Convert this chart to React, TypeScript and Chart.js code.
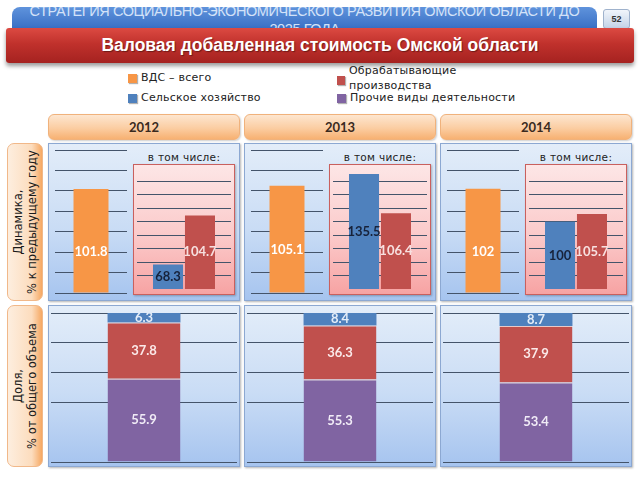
import React, { useEffect, useRef } from "react";
import { Chart, registerables } from "chart.js";

Chart.register(...registerables);

// ---------- data ----------
const years = ["2012", "2013", "2014"];
const vdsTotal = [101.8, 105.1, 102];
const agriDynamics = [68.3, 135.5, 100];
const manufDynamics = [104.7, 106.4, 105.7];
const agriShare = [6.3, 8.4, 8.7];
const manufShare = [37.8, 36.3, 37.9];
const otherShare = [55.9, 55.3, 53.4];

const legendLabels = ["ВДС – всего", "Сельское хозяйство", "Обрабатывающие производства", "Прочие виды деятельности"];
const COLORS = { vds: "#f79646", agri: "#4f81bd", manuf: "#c0504d", other: "#8064a2" };
const GRID = "#44546a";

const valueLabels = {
  id: "valueLabels",
  afterDatasetsDraw(chart: any, _args: any, opts: any) {
    const ctx = chart.ctx;
    const area = chart.chartArea;
    chart.data.datasets.forEach((ds: any, i: number) => {
      const meta = chart.getDatasetMeta(i);
      meta.data.forEach((el: any, j: number) => {
        const v = ds.data[j];
        const p = el.getProps(["x", "y", "base"], true);
        const base = Math.min(p.base, area.bottom);
        const top = Math.max(p.y, area.top);
        ctx.save();
        ctx.font = opts.font || "bold 13px Lato";
        ctx.fillStyle = ds.labelColor || "#fff";
        ctx.textAlign = "center";
        ctx.textBaseline = "middle";
        ctx.fillText(String(v), p.x, (top + base) / 2 + (opts.offset || 0));
        ctx.restore();
      });
    });
  },
};

function makeConfig(datasets: any[], min: number, max: number, step: number, bp: number, cp: number, hidden: number[], stacked: boolean, offset: number) {
  return {
    type: "bar",
    data: { labels: ["x"], datasets },
    options: {
      animation: false,
      responsive: false,
      events: [],
      layout: { padding: { top: 2, bottom: 2, left: 0, right: 0 } },
      plugins: { legend: { display: false }, tooltip: { enabled: false }, valueLabels: { offset, font: "bold 13px Lato" } },
      datasets: { bar: { barPercentage: bp, categoryPercentage: cp } },
      scales: {
        x: { display: false, stacked },
        y: {
          display: true,
          stacked,
          min,
          max,
          ticks: { display: false, stepSize: step },
          border: { display: false },
          grid: {
            drawTicks: false,
            lineWidth: 1,
            color: (c: any) => (hidden.includes(c.tick && c.tick.value) ? "rgba(0,0,0,0)" : GRID),
          },
        },
      },
    },
    plugins: [valueLabels],
  };
}

function ChartCanvas({ left, top, width, height, config }: any) {
  const ref = useRef<HTMLCanvasElement>(null);
  useEffect(() => {
    const c = new Chart(ref.current as HTMLCanvasElement, config as any);
    return () => c.destroy();
  }, []);
  return <canvas ref={ref} width={width} height={height} style={{ position: "absolute", left, top, width, height }} />;
}

const panelX = [48, 244, 440];

const abs = (l: number, t: number, w: number, h: number, extra: any = {}) => ({ position: "absolute" as const, left: l, top: t, width: w, height: h, ...extra });

const bluePanel = {
  background: "linear-gradient(to bottom, #e3edf9 0%, #c9dcf5 55%, #a6c4ef 100%)",
  border: "1px solid #8ca8d2",
  boxShadow: "1px 1px 2px rgba(0,0,0,0.3)",
  boxSizing: "border-box" as const,
};

function SideLabel({ top, height, lines }: any) {
  return (
    <div style={abs(7, top, 36, height, {
      borderRadius: 7,
      background: "linear-gradient(to right, #fdeedf 0%, #fcdcbd 70%, #f6a862 100%)",
      border: "1px solid #f1b889",
      boxSizing: "border-box",
      overflow: "hidden",
    })}>
      <div style={{
        position: "absolute", left: "50%", top: "50%", width: height, transform: "translate(-50%,-50%) rotate(-90deg)",
        textAlign: "center", fontFamily: "DejaVu Sans", fontSize: 11.5, lineHeight: "14px", color: "#1a1a1a", whiteSpace: "nowrap",
      }}>
        {lines.map((l: string, i: number) => <div key={i}>{l}</div>)}
      </div>
    </div>
  );
}

function LegendItem({ x, y, color, children }: any) {
  return (
    <div style={{ position: "absolute", left: x, top: y, fontFamily: "DejaVu Sans", fontSize: 11, color: "#222", letterSpacing: 0.2 }}>
      <span style={{ position: "absolute", left: 0, top: 4, width: 9, height: 9, background: color, boxShadow: "1px 1px 1px rgba(0,0,0,0.3)" }} />
      <span style={{ position: "absolute", left: 13, top: 0, whiteSpace: "nowrap", lineHeight: "16px" }}>{children}</span>
    </div>
  );
}

export default function App() {
  return (
    <div style={{ position: "absolute", left: 0, top: 0, width: 640, height: 480, background: "#fff", overflow: "hidden" }}>
      {/* blue top banner */}
      <div style={abs(12, 7, 585, 40, {
        borderRadius: "8px 8px 0 0",
        background: "linear-gradient(to bottom, #5f93dc 0%, #3c72c6 50%, #2d60b4 100%)",
        overflow: "hidden",
      })}>
        <div style={{ position: "absolute", left: 0, top: -5, width: 585, textAlign: "center", color: "#d3e2f8", fontFamily: "Liberation Sans", fontSize: 14.5, lineHeight: "18px", letterSpacing: -0.4 }}>
          СТРАТЕГИЯ СОЦИАЛЬНО-ЭКОНОМИЧЕСКОГО РАЗВИТИЯ ОМСКОЙ ОБЛАСТИ ДО<br />2025 ГОДА
        </div>
      </div>
      <div style={abs(603, 9, 27, 20, {
        background: "linear-gradient(to bottom, #f1f5fb, #c4d3e7)",
        border: "1px solid #9fb2cc", borderRadius: 3, boxSizing: "border-box",
        fontFamily: "Liberation Sans", fontWeight: "bold", fontSize: 9, color: "#333", textAlign: "center", lineHeight: "18px",
      })}>52</div>
      {/* red title banner */}
      <div style={abs(6, 28, 628, 35, {
        background: "linear-gradient(to bottom, #dc4a42 0%, #c0312c 45%, #a52220 100%)",
        borderRadius: 3,
        boxShadow: "0 3px 4px rgba(0,0,0,0.4)",
        color: "#fff", fontFamily: "Liberation Sans", fontWeight: "bold", fontSize: 17.5,
        textAlign: "center", lineHeight: "35px", textShadow: "1px 1px 1px rgba(0,0,0,0.4)",
      })}>Валовая добавленная стоимость Омской области</div>

      {/* legend */}
      <LegendItem x={128} y={70} color={COLORS.vds}>{legendLabels[0]}</LegendItem>
      <LegendItem x={128} y={90} color={COLORS.agri}>{legendLabels[1]}</LegendItem>
      <div style={{ position: "absolute", left: 337, top: 63, fontFamily: "DejaVu Sans", fontSize: 11, color: "#222", letterSpacing: 0.2 }}>
        <span style={{ position: "absolute", left: 0, top: 13, width: 8, height: 9, background: COLORS.manuf, boxShadow: "1px 1px 1px rgba(0,0,0,0.3)" }} />
        <span style={{ position: "absolute", left: 12, top: 0, whiteSpace: "nowrap", lineHeight: "15px" }}>Обрабатывающие<br />производства</span>
      </div>
      <LegendItem x={337} y={90} color={COLORS.other}>{legendLabels[3]}</LegendItem>

      <SideLabel top={143} height={158} lines={["Динамика,", "% к предыдущему году"]} />
      <SideLabel top={305} height={162} lines={["Доля,", "% от общего объема"]} />

      {years.map((yr, i) => {
        const px = panelX[i];
        return (
          <React.Fragment key={yr}>
            <div style={abs(px, 114, 192, 26, {
              borderRadius: 6,
              background: "linear-gradient(to bottom, #fde6d0 0%, #fbcda2 55%, #f7b172 100%)",
              border: "1px solid #f0b27c", boxSizing: "border-box",
              textAlign: "center", lineHeight: "24px", fontFamily: "Lato", fontWeight: "bold", fontSize: 13, color: "#3a2a1e",
              boxShadow: "1px 1px 2px rgba(0,0,0,0.2)",
            })}>{yr}</div>
            <div style={abs(px, 143, 192, 158, bluePanel)} />
            <div style={abs(px, 305, 192, 162, bluePanel)} />
            <div style={abs(px + 85, 164, 102, 131, {
              background: "linear-gradient(to bottom, #fde6e6 0%, #fbcaca 55%, #f7a3a3 100%)",
              border: "1.5px solid #c9605e", boxSizing: "border-box",
              boxShadow: "1px 1px 2px rgba(0,0,0,0.25)",
            })} />
            <div style={abs(px + 85, 150, 102, 14, {
              textAlign: "center", fontFamily: "DejaVu Sans", fontSize: 10.5, color: "#222", lineHeight: "14px", letterSpacing: 0.3,
            })}>в том числе:</div>
            <ChartCanvas left={px + 7} top={148} width={72} height={147}
              config={makeConfig([
                { data: [vdsTotal[i]], backgroundColor: COLORS.vds, labelColor: "#ffffff" },
              ], 0, 140, 20, 0.486, 1, [], false, 11)} />
            <ChartCanvas left={px + 89} top={166} width={94} height={125}
              config={makeConfig([
                { data: [agriDynamics[i]], backgroundColor: COLORS.agri, labelColor: "#17223a" },
                { data: [manufDynamics[i]], backgroundColor: COLORS.manuf, labelColor: "#f7e0e0" },
              ], 50, 140, 10, 0.94, 0.68, [50, 140], false, 0)} />
            <ChartCanvas left={px + 3} top={311} width={186} height={153}
              config={makeConfig([
                { data: [otherShare[i]], backgroundColor: COLORS.other, labelColor: "#f0ebf6", borderColor: "#e9c9c9", borderWidth: { top: 1 } },
                { data: [manufShare[i]], backgroundColor: COLORS.manuf, labelColor: "#fbe9e9", borderColor: "#e9c9c9", borderWidth: { top: 1 } },
                { data: [agriShare[i]], backgroundColor: COLORS.agri, labelColor: "#e3ecf8" },
              ], 0, 100, 20, 0.392, 1, [20], true, 0)} />
          </React.Fragment>
        );
      })}
    </div>
  );
}
